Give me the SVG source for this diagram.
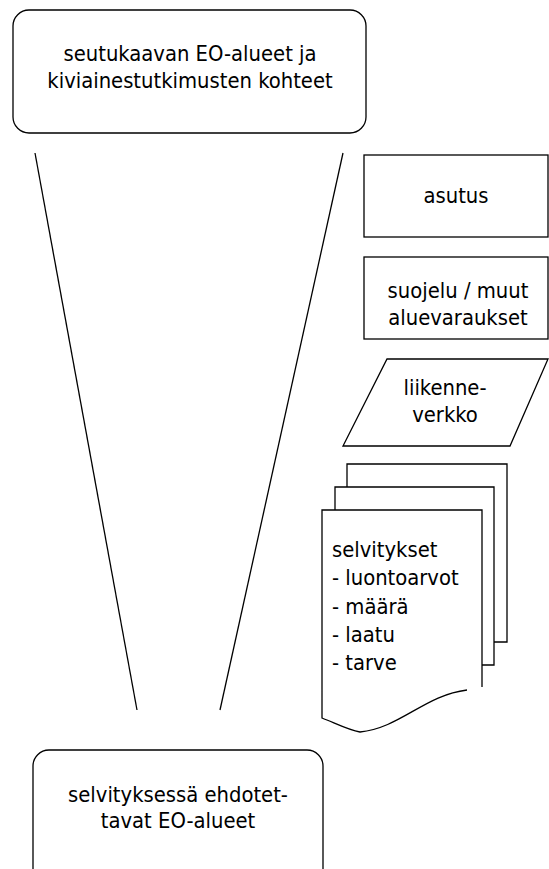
<svg xmlns="http://www.w3.org/2000/svg" width="549" height="869" viewBox="0 0 549 869">
<style>
.s{fill:#fff;stroke:#000;stroke-width:1.3}
.l{fill:none;stroke:#000;stroke-width:1.3}
text{font-family:"DejaVu Sans Condensed","DejaVu Sans",Verdana,sans-serif;font-stretch:condensed;font-size:21.8px;fill:#000}
.c{text-anchor:middle}
</style>
<g id="connectors">
<line class="l" x1="35" y1="153" x2="137" y2="710"/>
<line class="l" x1="343" y1="153" x2="220" y2="710"/>
</g>
<g id="top">
<rect class="s" x="13" y="10" width="353" height="123" rx="16"/>
<text class="c" x="190" y="61">seutukaavan EO-alueet ja</text>
<text class="c" x="190" y="88">kiviainestutkimusten kohteet</text>
</g>
<g id="asutus">
<rect class="s" x="364" y="155" width="184" height="82"/>
<text class="c" x="456" y="203">asutus</text>
</g>
<g id="suojelu">
<rect class="s" x="364" y="257" width="184" height="82"/>
<text class="c" x="458" y="298">suojelu / muut</text>
<text class="c" x="458" y="325">aluevaraukset</text>
</g>
<g id="liikenne">
<polygon class="s" points="387,359 548,359 510,446 343,446"/>
<text class="c" x="445" y="395">liikenne-</text>
<text class="c" x="445" y="422">verkko</text>
</g>
<g id="selvitykset">
<path class="s" d="M347,642 V464 H507 V642 Z"/>
<path class="s" d="M335,665 V487 H494 V665 Z"/>
<path class="s" d="M482,687 V510 H322 V718 C335,723 348,730 360,732 C400,728 425,695 467,690"/>
<text x="332" y="557">selvitykset</text>
<text x="332" y="585">- luontoarvot</text>
<text x="332" y="614">- määrä</text>
<text x="332" y="642">- laatu</text>
<text x="332" y="670">- tarve</text>
</g>
<g id="bottom">
<rect class="s" x="33" y="750" width="290" height="140" rx="16"/>
<text class="c" x="178" y="802">selvityksessä ehdotet-</text>
<text class="c" x="178" y="828">tavat EO-alueet</text>
</g>
</svg>
